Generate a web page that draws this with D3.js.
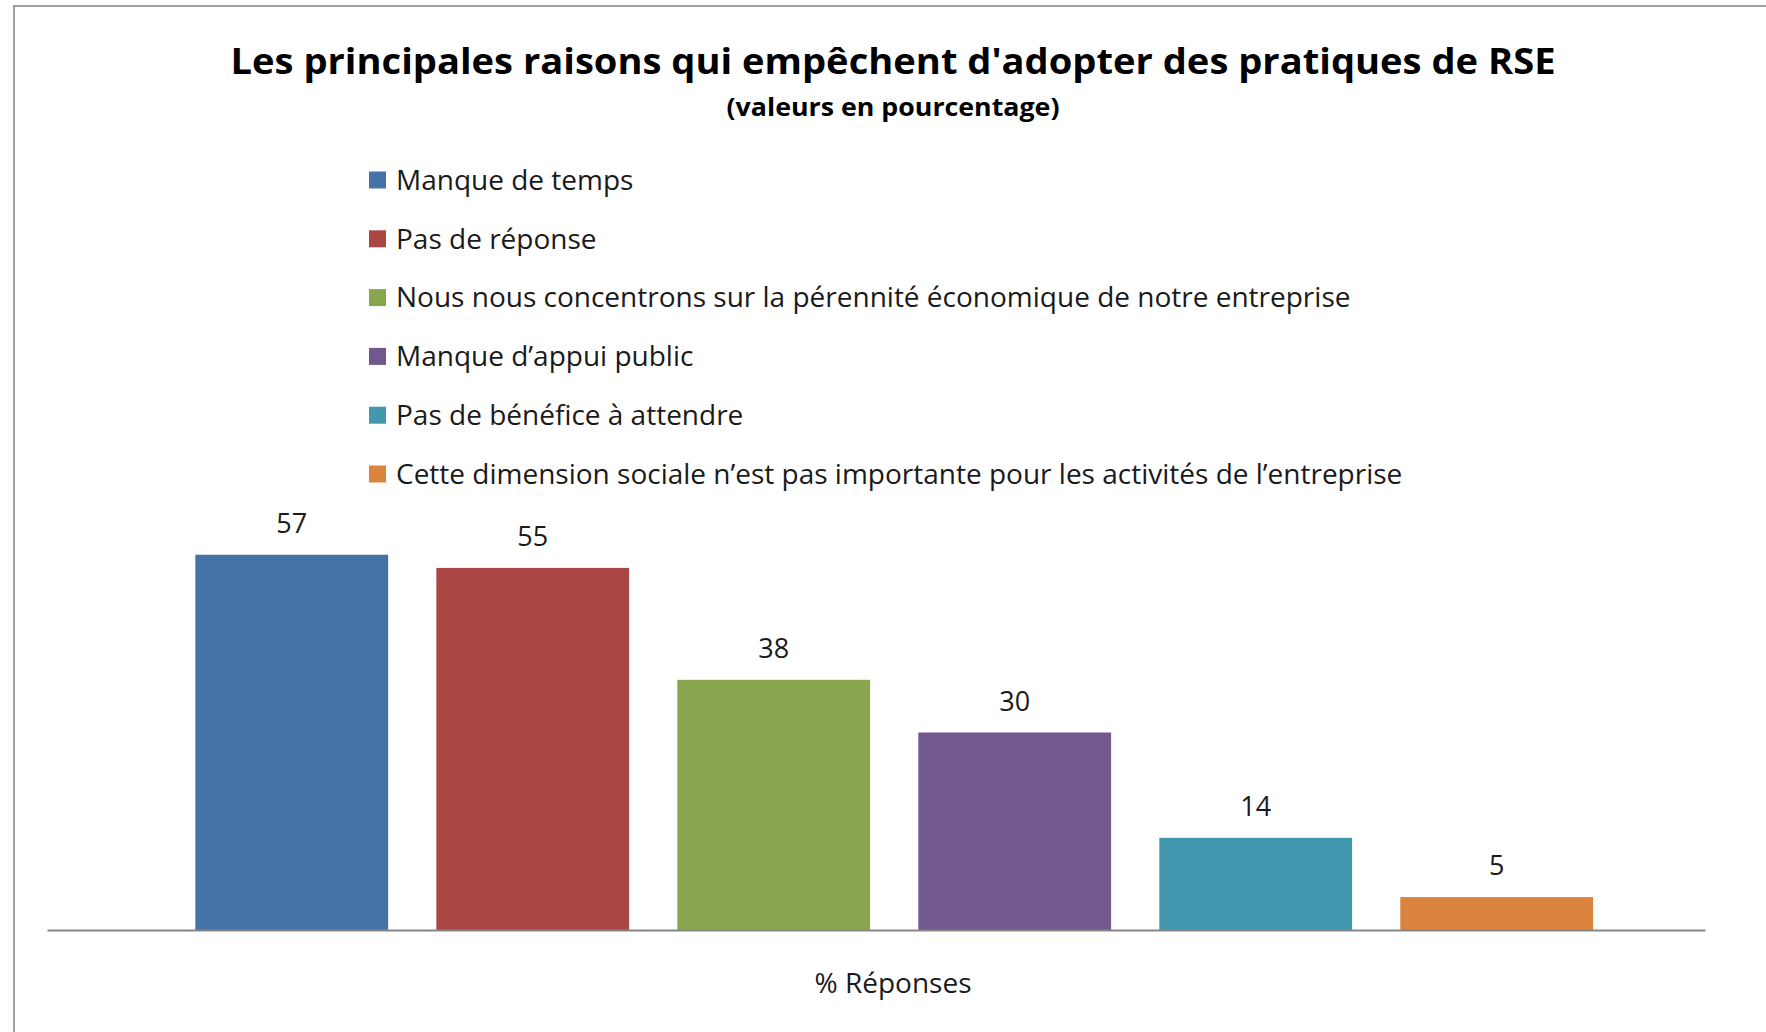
<!DOCTYPE html>
<html>
<head>
<meta charset="utf-8">
<script src="https://cdn.jsdelivr.net/npm/d3@7"></script>
<style>
  body { margin: 0; background: #fff; }
  text { font-family: "Open Sans", sans-serif; }
</style>
</head>
<body>
<div id="graph"></div>
<script>
const categories = [
  "Manque de temps",
  "Pas de réponse",
  "Nous nous concentrons sur la pérennité économique de notre entreprise",
  "Manque d’appui public",
  "Pas de bénéfice à attendre",
  "Cette dimension sociale n’est pas importante  pour les activités de l’entreprise"
];
const values = [57, 55, 38, 30, 14, 5];
const colors = ["#4572a7", "#aa4643", "#89a54e", "#71588f", "#4198af", "#db843d"];
const title = "Les principales raisons qui empêchent d'adopter des pratiques de RSE";
const subtitle = "(valeurs en pourcentage)";
const axisTitle = "% Réponses";

const w = 1766, h = 1032;
const svg = d3.select("#graph").append("svg").attr("width", w).attr("height", h);

// chart frame (only left and top edges visible)
svg.append("rect")
  .attr("x", 14).attr("y", 6)
  .attr("width", 1900).attr("height", 1200)
  .attr("fill", "none").attr("stroke", "#a0a0a0").attr("stroke-width", 2);

svg.append("text")
  .attr("x", 893).attr("y", 74)
  .attr("text-anchor", "middle")
  .attr("font-size", 36).attr("font-weight", 700)
  .attr("textLength", 1325).attr("lengthAdjust", "spacingAndGlyphs")
  .text(title);

svg.append("text")
  .attr("x", 893).attr("y", 116)
  .attr("text-anchor", "middle")
  .attr("font-size", 25).attr("font-weight", 700)
  .attr("textLength", 333).attr("lengthAdjust", "spacingAndGlyphs")
  .text(subtitle);

// legend
const legend = svg.append("g").attr("transform", "translate(369,180)");
const item = legend.selectAll("g")
  .data(categories)
  .enter()
  .append("g")
  .attr("transform", (d, i) => `translate(0,${i * 58.8})`);
item.append("rect")
  .attr("x", 0).attr("y", -8.5)
  .attr("width", 17).attr("height", 17)
  .attr("fill", (d, i) => colors[i]);
item.append("text")
  .attr("x", 27).attr("y", 0)
  .attr("dy", "0.35em")
  .attr("font-size", 28)
  .attr("fill", "#1a1a1a")
  .text((d) => d);

// bars
const x = d3.scaleBand()
  .domain(categories)
  .range([47, 1705])
  .paddingInner(0.2)
  .paddingOuter(0.54)
  .align(0.57);
const y = d3.scaleLinear().domain([0, 60]).range([930, 535]);

svg.append("g")
  .selectAll("rect")
  .data(values)
  .enter()
  .append("rect")
  .attr("x", (d, i) => x(categories[i]))
  .attr("y", (d) => y(d))
  .attr("width", x.bandwidth())
  .attr("height", (d) => y(0) - y(d))
  .attr("fill", (d, i) => colors[i]);

svg.append("g")
  .selectAll("text")
  .data(values)
  .enter()
  .append("text")
  .attr("x", (d, i) => x(categories[i]) + x.bandwidth() / 2)
  .attr("y", (d) => y(d) - 22)
  .attr("text-anchor", "middle")
  .attr("font-size", 27)
  .attr("fill", "#1a1a1a")
  .text((d) => d);

const axis = svg.append("g")
  .attr("transform", `translate(0,${y(0)})`)
  .call(d3.axisBottom(x).tickSize(0).tickFormat(""));
axis.select(".domain").attr("stroke", "#868686").attr("stroke-width", 2);

svg.append("text")
  .attr("x", 893).attr("y", 993)
  .attr("text-anchor", "middle")
  .attr("font-size", 28)
  .attr("fill", "#1a1a1a")
  .text(axisTitle);
</script>
</body>
</html>
